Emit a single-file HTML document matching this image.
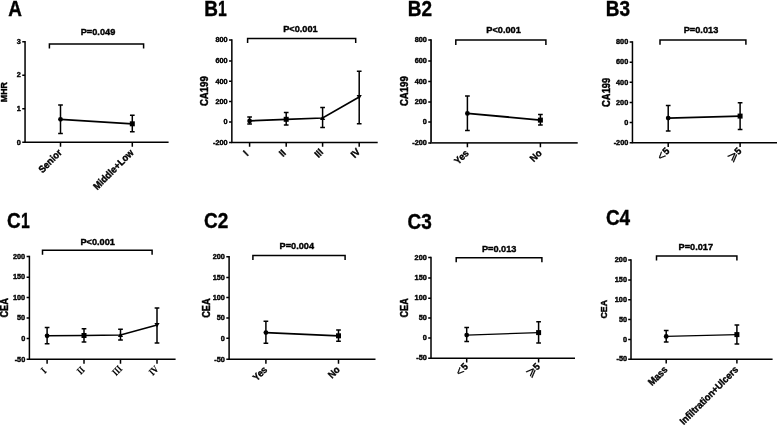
<!DOCTYPE html>
<html lang="en"><head><meta charset="utf-8"><title>Figure</title>
<style>
html,body{margin:0;padding:0;background:#fff;}
svg{display:block;}
text{fill:#000;stroke:#000;stroke-width:0.4px;font-family:"Liberation Sans", "DejaVu Sans", sans-serif;font-weight:bold;}
.ln{stroke:#000;stroke-width:1.5;fill:none;stroke-linecap:butt;}
.sg{font-weight:normal;font-size:13px;stroke-width:0.2px;}
.tk{font-size:7.3px;text-anchor:end;}
.pv{font-size:9.9px;text-anchor:middle;}
.xl{font-size:9.9px;text-anchor:end;}
.yl{font-size:8.7px;text-anchor:middle;}
.lab{font-size:21.3px;}
</style></head><body>
<svg width="777" height="427" viewBox="0 0 777 427">
<rect width="777" height="427" fill="#fff"/>
<g>
<text class="lab" transform="translate(8.3 16.1) scale(0.89 1)">A</text>
<text class="pv" transform="translate(98 35.4) scale(0.93 1)">P=0.049</text>
<path class="ln" d="M49.4 48.6V43.9H143.6V48.6"/>
<path class="ln" d="M25.05 41.05V142.35H168.6"/>
<path class="ln" d="M22.25 41.8H25.05M22.25 75.2H25.05M22.25 108.7H25.05M22.25 142.35H25.05"/>
<text class="tk" x="20.85" y="44.05">3</text>
<text class="tk" x="20.85" y="77.45">2</text>
<text class="tk" x="20.85" y="110.95">1</text>
<text class="tk" x="20.85" y="144.6">0</text>
<text class="yl" style="font-size:9px" transform="translate(7.4 92.1) rotate(-90) scale(0.98 1.09)">MHR</text>
<path class="ln" d="M60.5 142.35V146.75M132.3 142.35V146.75"/>
<text class="xl" transform="translate(62.5 153.35) rotate(-45) scale(0.925 1)">Senior</text>
<text class="xl" transform="translate(134.3 153.35) rotate(-45) scale(0.925 1)">Middle+Low</text>
<path class="ln" style="stroke-width:1.7" d="M60.5 119.3L132.3 123.8"/>
<path class="ln" d="M60.5 105V133.5M58.15 105H62.85M58.15 133.5H62.85M132.3 115.3V131.8M129.95 115.3H134.65M129.95 131.8H134.65"/>
<circle cx="60.5" cy="119.3" r="2.4"/>
<rect x="129.8" y="121.3" width="5" height="5"/>
</g>
<g>
<text class="lab" transform="translate(204.2 16) scale(0.89 1)">B<tspan dx="0.25" textLength="9.85" lengthAdjust="spacingAndGlyphs">1</tspan></text>
<text class="pv" transform="translate(300.4 31.8) scale(0.93 1)">P&lt;0.001</text>
<path class="ln" d="M247.6 43V38.4H355.7V43"/>
<path class="ln" d="M231.85 39.35V142.4H377.7"/>
<path class="ln" d="M229.05 40.1H231.85M229.05 60.9H231.85M229.05 81.3H231.85M229.05 101.6H231.85M229.05 121.9H231.85M229.05 142.4H231.85"/>
<text class="tk" x="227.65" y="42.35">800</text>
<text class="tk" x="227.65" y="63.15">600</text>
<text class="tk" x="227.65" y="83.55">400</text>
<text class="tk" x="227.65" y="103.85">200</text>
<text class="tk" x="227.65" y="124.15">0</text>
<text class="tk" x="227.65" y="144.65">-200</text>
<text class="yl" style="font-size:9.8px" transform="translate(208.4 91.2) rotate(-90) scale(0.98 1.09)">CA199</text>
<path class="ln" d="M249.6 142.4V146.8M286.2 142.4V146.8M322.6 142.4V146.8M359.2 142.4V146.8"/>
<text class="xl" style="text-anchor:middle" transform="translate(248.1 155.5) rotate(-45) scale(0.925 1)">I</text>
<text class="xl" style="text-anchor:middle" transform="translate(284.7 155.5) rotate(-45) scale(0.925 1)">II</text>
<text class="xl" style="text-anchor:middle" transform="translate(321.1 155.5) rotate(-45) scale(0.925 1)">III</text>
<text class="xl" style="text-anchor:middle" transform="translate(357.7 155.5) rotate(-45) scale(0.925 1)">IV</text>
<path class="ln" style="stroke-width:1.7" d="M249.6 120.9L286.2 119.3L322.6 118L359.2 97"/>
<path class="ln" d="M249.6 117V124M247.25 117H251.95M247.25 124H251.95M286.2 112.5V125M283.85 112.5H288.55M283.85 125H288.55M322.6 107.6V127.6M320.25 107.6H324.95M320.25 127.6H324.95M359.2 71.3V123.8M356.85 71.3H361.55M356.85 123.8H361.55"/>
<circle cx="249.6" cy="120.9" r="2.4"/>
<rect x="283.7" y="116.8" width="5" height="5"/>
<path d="M322.6 115.4L325.2 119.9L320 119.9Z"/>
<path d="M359.2 99.6L361.8 95.1L356.6 95.1Z"/>
</g>
<g>
<text class="lab" transform="translate(407.7 16.2) scale(0.89 1)">B2</text>
<text class="pv" transform="translate(503.6 32.5) scale(0.93 1)">P&lt;0.001</text>
<path class="ln" d="M455.8 44.9V40.1H545.9V44.9"/>
<path class="ln" style="stroke-width:1.9;stroke:#222" d="M431.05 39.35V142.9H577.7"/>
<path class="ln" d="M428.25 40.1H431.05M428.25 60.9H431.05M428.25 81.4H431.05M428.25 101.9H431.05M428.25 122.1H431.05M428.25 142.9H431.05"/>
<text class="tk" x="426.85" y="42.35">800</text>
<text class="tk" x="426.85" y="63.15">600</text>
<text class="tk" x="426.85" y="83.65">400</text>
<text class="tk" x="426.85" y="104.15">200</text>
<text class="tk" x="426.85" y="124.35">0</text>
<text class="tk" x="426.85" y="145.15">-200</text>
<text class="yl" style="font-size:9.8px" transform="translate(407.9 91.2) rotate(-90) scale(0.98 1.09)">CA199</text>
<path class="ln" d="M467.4 142.9V147.3M540.4 142.9V147.3"/>
<text class="xl" transform="translate(469.4 153.9) rotate(-45) scale(0.925 1)">Yes</text>
<text class="xl" transform="translate(542.4 153.9) rotate(-45) scale(0.925 1)">No</text>
<path class="ln" style="stroke-width:1.9" d="M467.4 113.4L540.4 120.1"/>
<path class="ln" d="M467.4 96V130.6M465.05 96H469.75M465.05 130.6H469.75M540.4 114.6V125.1M538.05 114.6H542.75M538.05 125.1H542.75"/>
<circle cx="467.4" cy="113.4" r="2.4"/>
<rect x="537.9" y="117.6" width="5" height="5"/>
</g>
<g>
<text class="lab" transform="translate(605.7 16.2) scale(0.89 1)">B3</text>
<text class="pv" transform="translate(701 32.95) scale(0.93 1)">P=0.013</text>
<path class="ln" d="M660 44.8V39.9H745.9V44.8"/>
<path class="ln" d="M632.45 41.35V142.7H777"/>
<path class="ln" d="M629.65 42.1H632.45M629.65 62.2H632.45M629.65 82.3H632.45M629.65 102.5H632.45M629.65 122.6H632.45M629.65 142.7H632.45"/>
<text class="tk" x="628.25" y="44.35">800</text>
<text class="tk" x="628.25" y="64.45">600</text>
<text class="tk" x="628.25" y="84.55">400</text>
<text class="tk" x="628.25" y="104.75">200</text>
<text class="tk" x="628.25" y="124.85">0</text>
<text class="tk" x="628.25" y="144.95">-200</text>
<text class="yl" style="font-size:9.6px" transform="translate(609.5 92.3) rotate(-90) scale(0.98 1.09)">CA199</text>
<path class="ln" d="M668.2 142.7V147.1M740.1 142.7V147.1"/>
<text class="xl" transform="translate(670.2 151.7) rotate(-45) scale(0.925 1)"><tspan class="sg" dy="1.2">&lt;</tspan><tspan dx="0.7" dy="-1.2">5</tspan></text>
<text class="xl" transform="translate(742.1 151.7) rotate(-45) scale(0.925 1)"><tspan class="sg" dy="0.1">⩾</tspan><tspan dx="-0.5" dy="-0.1">5</tspan></text>
<path class="ln" style="stroke-width:1.6" d="M668.2 118.1L740.1 116.1"/>
<path class="ln" d="M668.2 105.6V130.9M665.85 105.6H670.55M665.85 130.9H670.55M740.1 102.8V129.4M737.75 102.8H742.45M737.75 129.4H742.45"/>
<circle cx="668.2" cy="118.1" r="2.4"/>
<rect x="737.6" y="113.6" width="5" height="5"/>
</g>
<g>
<text class="lab" transform="translate(7 228) scale(0.89 1)">C<tspan dx="0.25" textLength="9.85" lengthAdjust="spacingAndGlyphs">1</tspan></text>
<text class="pv" transform="translate(97.7 244.5) scale(0.93 1)">P&lt;0.001</text>
<path class="ln" d="M42.5 254.8V250.3H152.1V254.8"/>
<path class="ln" d="M29.4 255.85V359.3H175.6"/>
<path class="ln" d="M26.6 256.6H29.4M26.6 277.2H29.4M26.6 297.6H29.4M26.6 318H29.4M26.6 338.4H29.4M26.6 359.3H29.4"/>
<text class="tk" x="25.2" y="258.85">200</text>
<text class="tk" x="25.2" y="279.45">150</text>
<text class="tk" x="25.2" y="299.85">100</text>
<text class="tk" x="25.2" y="320.25">50</text>
<text class="tk" x="25.2" y="340.65">0</text>
<text class="tk" x="25.2" y="361.55">-50</text>
<text class="yl" style="font-size:9.4px" transform="translate(8.2 307.85) rotate(-90) scale(0.98 1.09)">CEA</text>
<path class="ln" d="M47.1 359.3V363.7M84 359.3V363.7M120.5 359.3V363.7M157 359.3V363.7"/>
<text class="xl" style="font-family:'Liberation Serif', 'DejaVu Serif', serif;text-anchor:middle;stroke-width:0.15px" transform="translate(46 372.8) rotate(-45) scale(0.83 1)">I</text>
<text class="xl" style="font-family:'Liberation Serif', 'DejaVu Serif', serif;text-anchor:middle;stroke-width:0.15px" transform="translate(82.9 372.8) rotate(-45) scale(0.83 1)">II</text>
<text class="xl" style="font-family:'Liberation Serif', 'DejaVu Serif', serif;text-anchor:middle;stroke-width:0.15px" transform="translate(119.4 372.8) rotate(-45) scale(0.83 1)">III</text>
<text class="xl" style="font-family:'Liberation Serif', 'DejaVu Serif', serif;text-anchor:middle;stroke-width:0.15px" transform="translate(155.9 372.8) rotate(-45) scale(0.83 1)">IV</text>
<path class="ln" style="stroke-width:1.6" d="M47.1 335.8L84 335.5L120.5 335L157 325"/>
<path class="ln" d="M47.1 327.6V343.8M44.75 327.6H49.45M44.75 343.8H49.45M84 328.8V342M81.65 328.8H86.35M81.65 342H86.35M120.5 329.3V340M118.15 329.3H122.85M118.15 340H122.85M157 308V343M154.65 308H159.35M154.65 343H159.35"/>
<circle cx="47.1" cy="335.8" r="2.4"/>
<rect x="81.5" y="333" width="5" height="5"/>
<path d="M120.5 332.4L123.1 336.9L117.9 336.9Z"/>
<path d="M157 327.6L159.6 323.1L154.4 323.1Z"/>
</g>
<g>
<text class="lab" transform="translate(204 228) scale(0.89 1)">C2</text>
<text class="pv" transform="translate(296.8 248.5) scale(0.93 1)">P=0.004</text>
<path class="ln" d="M252.9 260.1V255.6H345.1V260.1"/>
<path class="ln" d="M229.1 256.05V359.35H375.5"/>
<path class="ln" d="M226.3 256.8H229.1M226.3 277.4H229.1M226.3 297.6H229.1M226.3 318H229.1M226.3 338.3H229.1M226.3 359.35H229.1"/>
<text class="tk" x="224.9" y="259.05">200</text>
<text class="tk" x="224.9" y="279.65">150</text>
<text class="tk" x="224.9" y="299.85">100</text>
<text class="tk" x="224.9" y="320.25">50</text>
<text class="tk" x="224.9" y="340.55">0</text>
<text class="tk" x="224.9" y="361.6">-50</text>
<text class="yl" style="font-size:9.4px" transform="translate(209.5 308.1) rotate(-90) scale(0.98 1.09)">CEA</text>
<path class="ln" d="M265.9 359.35V363.75M338.5 359.35V363.75"/>
<text class="xl" transform="translate(267.9 370.35) rotate(-45) scale(0.925 1)">Yes</text>
<text class="xl" transform="translate(340.5 370.35) rotate(-45) scale(0.925 1)">No</text>
<path class="ln" style="stroke-width:1.7" d="M265.9 332.6L338.5 335.8"/>
<path class="ln" d="M265.9 321.3V343.3M263.55 321.3H268.25M263.55 343.3H268.25M338.5 330V341.3M336.15 330H340.85M336.15 341.3H340.85"/>
<circle cx="265.9" cy="332.6" r="2.4"/>
<rect x="336" y="333.3" width="5" height="5"/>
</g>
<g>
<text class="lab" transform="translate(407.5 228.5) scale(0.89 1)">C3</text>
<text class="pv" transform="translate(499.2 252) scale(0.93 1)">P=0.013</text>
<path class="ln" d="M456.2 262.3V257.8H541.9V262.3"/>
<path class="ln" d="M431 256.85V358.2H575"/>
<path class="ln" d="M428.2 257.6H431M428.2 277.9H431M428.2 298.2H431M428.2 318H431M428.2 338.1H431M428.2 358.2H431"/>
<text class="tk" x="426.8" y="259.85">200</text>
<text class="tk" x="426.8" y="280.15">150</text>
<text class="tk" x="426.8" y="300.45">100</text>
<text class="tk" x="426.8" y="320.25">50</text>
<text class="tk" x="426.8" y="340.35">0</text>
<text class="tk" x="426.8" y="360.45">-50</text>
<text class="yl" style="font-size:9.3px" transform="translate(408.3 307.9) rotate(-90) scale(0.98 1.09)">CEA</text>
<path class="ln" d="M466.7 358.2V362.6M538.6 358.2V362.6"/>
<text class="xl" transform="translate(468.7 367.2) rotate(-45) scale(0.925 1)"><tspan class="sg" dy="1.2">&lt;</tspan><tspan dx="0.7" dy="-1.2">5</tspan></text>
<text class="xl" transform="translate(540.6 367.2) rotate(-45) scale(0.925 1)"><tspan class="sg" dy="0.1">⩾</tspan><tspan dx="-0.5" dy="-0.1">5</tspan></text>
<path class="ln" style="stroke-width:1.35" d="M466.7 335.1L538.6 332.6"/>
<path class="ln" d="M466.7 327.6V341.6M464.35 327.6H469.05M464.35 341.6H469.05M538.6 321.8V343.1M536.25 321.8H540.95M536.25 343.1H540.95"/>
<circle cx="466.7" cy="335.1" r="2.4"/>
<rect x="536.1" y="330.1" width="5" height="5"/>
</g>
<g>
<text class="lab" transform="translate(605.9 224.8) scale(0.89 1)">C4</text>
<text class="pv" transform="translate(695.8 250) scale(0.93 1)">P=0.017</text>
<path class="ln" d="M656.5 260.5V256H736.9V260.5"/>
<path class="ln" d="M631 259.35V359.2H772.6"/>
<path class="ln" d="M628.2 260.1H631M628.2 279.9H631M628.2 299.7H631M628.2 319.6H631M628.2 339.4H631M628.2 359.2H631"/>
<text class="tk" x="627" y="262.35">200</text>
<text class="tk" x="627" y="282.15">150</text>
<text class="tk" x="627" y="301.95">100</text>
<text class="tk" x="627" y="321.85">50</text>
<text class="tk" x="627" y="341.65">0</text>
<text class="tk" x="627" y="361.45">-50</text>
<text class="yl" style="font-size:9px" transform="translate(607.1 309.2) rotate(-90) scale(0.98 1.09)">CEA</text>
<path class="ln" d="M666.2 359.2V363.6M736.9 359.2V363.6"/>
<text class="xl" transform="translate(668.2 370.2) rotate(-45) scale(0.925 1)">Mass</text>
<text class="xl" transform="translate(738.9 370.2) rotate(-45) scale(0.925 1)">Infiltration+Ulcers</text>
<path class="ln" style="stroke-width:1.45" d="M666.2 336.4L736.9 334.6"/>
<path class="ln" d="M666.2 330.4V341.9M663.85 330.4H668.55M663.85 341.9H668.55M736.9 325.1V344.1M734.55 325.1H739.25M734.55 344.1H739.25"/>
<circle cx="666.2" cy="336.4" r="2.4"/>
<rect x="734.4" y="332.1" width="5" height="5"/>
</g>
</svg>
</body></html>
